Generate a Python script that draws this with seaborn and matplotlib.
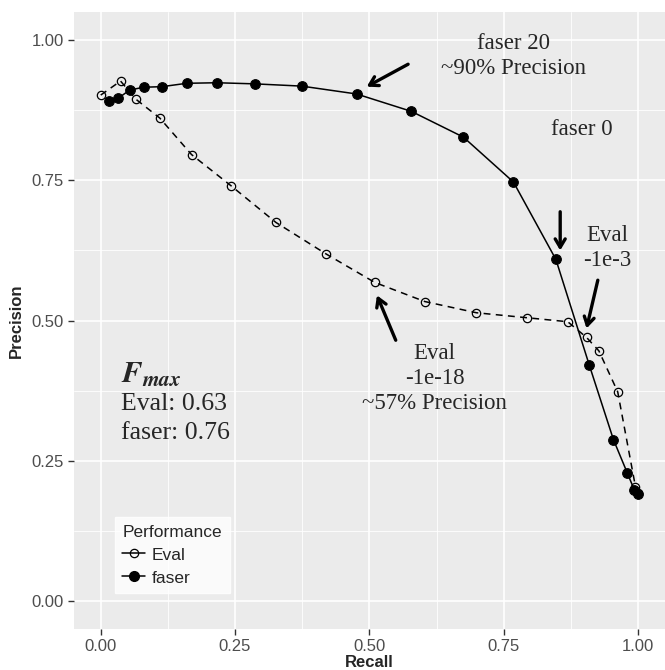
import numpy as np
import pandas as pd
import matplotlib
matplotlib.use("Agg")
import matplotlib.pyplot as plt
import seaborn as sns
from matplotlib.lines import Line2D

# Precision / recall points
eval_recall = [0.0, 0.037, 0.065, 0.110, 0.169, 0.243, 0.326, 0.419, 0.510,
               0.603, 0.699, 0.794, 0.869, 0.904, 0.927, 0.962, 0.995, 1.0]
eval_precision = [0.902, 0.927, 0.895, 0.861, 0.796, 0.740, 0.675, 0.619, 0.568,
                  0.534, 0.514, 0.505, 0.498, 0.470, 0.446, 0.373, 0.204, 0.192]

faser_recall = [0.015, 0.032, 0.054, 0.080, 0.114, 0.160, 0.216, 0.287, 0.374,
                0.476, 0.578, 0.675, 0.768, 0.847, 0.909, 0.954, 0.980, 0.993, 1.0]
faser_precision = [0.892, 0.896, 0.911, 0.916, 0.917, 0.923, 0.924, 0.922, 0.918,
                   0.904, 0.873, 0.827, 0.747, 0.609, 0.421, 0.288, 0.228, 0.198, 0.190]

ticks = [0.0, 0.25, 0.5, 0.75, 1.0]
tick_labels = ["0.00", "0.25", "0.50", "0.75", "1.00"]

df = pd.concat([
    pd.DataFrame({"Recall": eval_recall, "Precision": eval_precision, "Performance": "Eval"}),
    pd.DataFrame({"Recall": faser_recall, "Precision": faser_precision, "Performance": "faser"}),
])

sns.set_theme(style="darkgrid", rc={
    "axes.facecolor": "#EBEBEB",
    "grid.color": "white",
    "xtick.bottom": True,
    "ytick.left": True,
})
plt.rcParams["font.family"] = ["Liberation Sans", "DejaVu Sans"]
plt.rcParams["mathtext.fontset"] = "stix"

fig = plt.figure(figsize=(6.65, 6.7), dpi=100)
ax = fig.add_axes([0.111, 0.061, 0.889, 0.921])

sns.lineplot(data=df[df.Performance == "Eval"], x="Recall", y="Precision", ax=ax,
             color="black", lw=1.1, marker="o", markersize=6, markerfacecolor="none",
             markeredgecolor="black", markeredgewidth=0.9, sort=False)
ax.lines[-1].set_linestyle((0, (4.5, 3.5)))
sns.lineplot(data=df[df.Performance == "faser"], x="Recall", y="Precision", ax=ax,
             color="black", lw=1.1, marker="o", markersize=7, markerfacecolor="black",
             markeredgecolor="black", sort=False)

ax.set_xlim(-0.05, 1.05)
ax.set_ylim(-0.05, 1.05)
ax.set_xticks(ticks)
ax.set_xticklabels(tick_labels)
ax.set_yticks(ticks)
ax.set_yticklabels(tick_labels)
ax.set_xticks([0.125, 0.375, 0.625, 0.875], minor=True)
ax.set_yticks([0.125, 0.375, 0.625, 0.875], minor=True)
ax.grid(which="major", color="white", lw=1.2)
ax.grid(which="minor", color="white", lw=0.6)
ax.tick_params(which="major", length=4, width=1, color="#333333", labelsize=12,
               labelcolor="#4D4D4D", pad=3)
ax.tick_params(which="minor", length=0)
for s in ax.spines.values():
    s.set_visible(False)
ax.set_xlabel("Recall", fontsize=12, fontweight="bold", labelpad=1)
ax.set_ylabel("Precision", fontsize=12, fontweight="bold", labelpad=6)

serif = ["Liberation Serif", "DejaVu Serif"]
ax.text(0.768, 0.971, "faser 20\n~90% Precision", ha="center", va="center",
        fontsize=16.5, family=serif, linespacing=1.25)
ax.text(0.896, 0.841, "faser 0", ha="center", va="center", fontsize=16.5, family=serif)
ax.text(0.942, 0.629, "Eval\n-1e-3", ha="center", va="center", fontsize=16.5,
        family=serif, linespacing=1.25)
ax.text(0.621, 0.396, "Eval\n-1e-18\n~57% Precision", ha="center", va="center",
        fontsize=16.5, family=serif, linespacing=1.25)

ax.text(0.038, 0.404, r"$\mathbfit{F}_{\mathbfit{max}}$", ha="left", va="center",
        fontsize=22)
ax.text(0.038, 0.352, "Eval: 0.63", ha="left", va="center", fontsize=18.5, family=serif)
ax.text(0.038, 0.299, "faser: 0.76", ha="left", va="center", fontsize=18.5, family=serif)

arrow = dict(arrowstyle="->,head_length=0.5,head_width=0.3", color="black", lw=2.4,
             shrinkA=0, shrinkB=0)
ax.annotate("", xy=(0.495, 0.917), xytext=(0.572, 0.957), arrowprops=arrow)
ax.annotate("", xy=(0.855, 0.625), xytext=(0.855, 0.694), arrowprops=arrow)
ax.annotate("", xy=(0.904, 0.486), xytext=(0.925, 0.572), arrowprops=arrow)
ax.annotate("", xy=(0.514, 0.545), xytext=(0.549, 0.465), arrowprops=arrow)

handles = [
    Line2D([], [], color="black", lw=1.1, marker="o", markersize=6,
           markerfacecolor="none", markeredgewidth=0.9),
    Line2D([], [], color="black", lw=1.1, marker="o", markersize=7,
           markerfacecolor="black"),
]
leg = ax.legend(handles, ["Eval", "faser"], title="Performance", loc="lower left",
                bbox_to_anchor=(0.069, 0.058), borderaxespad=0, frameon=True,
                fontsize=12.5, title_fontsize=12.5, handlelength=1.3,
                handletextpad=0.4, borderpad=0.45, labelspacing=0.45, fancybox=False)
leg.get_frame().set_facecolor("white")
leg.get_frame().set_edgecolor("white")
leg._legend_box.align = "left"

fig.savefig("out.png", dpi=100)
